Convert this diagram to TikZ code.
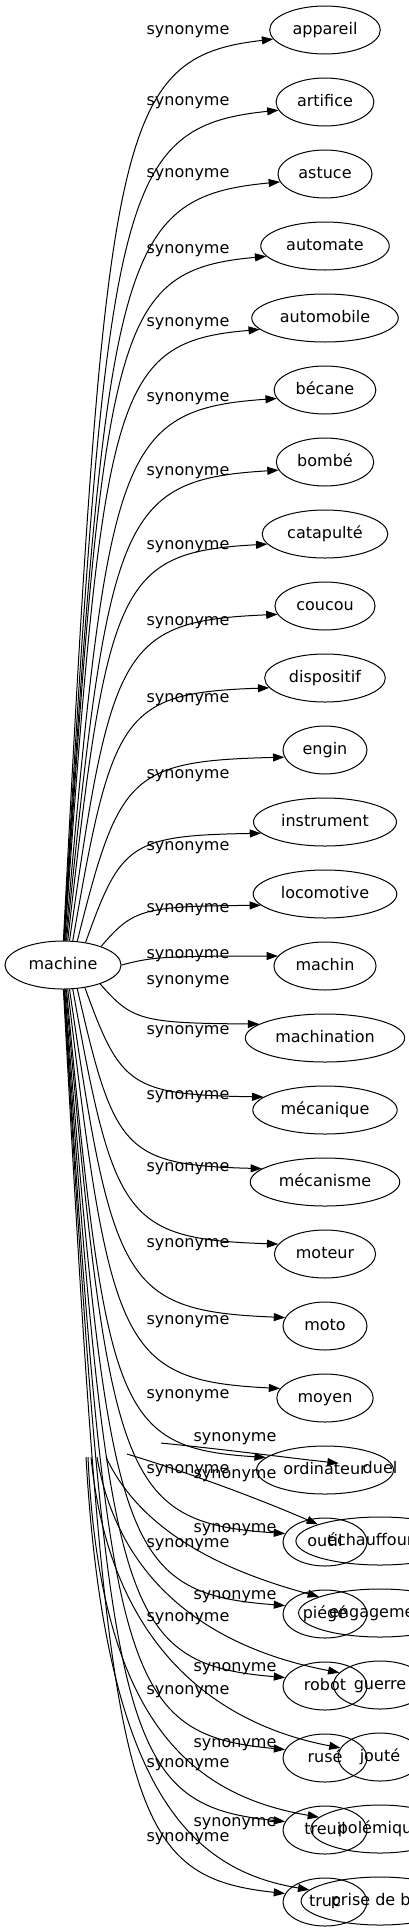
\documentclass[tikz,border=0pt]{standalone}
\usepackage{fontspec}
\setmainfont{DejaVu Sans}
\usetikzlibrary{calc}
\usetikzlibrary{arrows.meta}
\usetikzlibrary{shapes.geometric}

\tikzset{
  word/.style={ellipse, draw, line width=0.75pt, minimum width=63pt, minimum height=36pt,
    inner xsep=5pt, inner ysep=3pt, text height=9pt, text depth=2.5pt},
  syn/.style={line width=0.75pt, -{Triangle[length=8.5pt,width=6pt]}},
  lbl/.style={inner sep=0pt, text height=9pt, text depth=2.5pt}
}

\begin{document}
\begin{tikzpicture}[x=0.75pt, y=-0.75pt, font=\fontsize{12pt}{14pt}\selectfont]
\path[use as bounding box, clip] (0,0) rectangle (409,1931);

\node[word] (machine) at (63,965) {machine};

% first column, one edge each from machine
\foreach \nm/\txt/\ly [count=\i from 0] in {appareil/appareil/30, artifice/artifice/101, astuce/astuce/173,
  automate/automate/249, automobile/automobile/322, becane/bécane/397, bombe/bombé/471,
  catapulte/catapulté/545, coucou/coucou/621, dispositif/dispositif/698, engin/engin/774,
  instrument/instrument/846, locomotive/locomotive/908, machin/machin/954, machination/machination/980,
  mecanique/mécanique/1030, mecanisme/mécanisme/1095, moteur/moteur/1167, moto/moto/1243,
  moyen/moyen/1320, ordinateur/ordinateur/1394, outil/outil/1469, piege/piégé/1543,
  robot/robot/1617, ruse/rusé/1690, treuil/treuil/1763, truc/truc/1837}
{
  \pgfmathsetmacro\yy{30+72*\i}
  \pgfmathtruncatemacro\a{(\yy<965 ? 1 : -1)*90*(1-exp(-abs(\yy-965)/200))}
  \pgfmathtruncatemacro\b{\yy<965 ? 190 : (\yy>965 ? 168 : 180)}
  \node[word] (\nm) at (325,\yy) {\txt};
  \node[lbl] (l\nm) at (188,\ly) {synonyme};
  \draw[syn] let \p1=(machine.\a), \p2=(\nm.\b) in (\p1)
    .. controls ({\x1+0.2*(\x2-\x1)},{\y1+0.9*(\y2-\y1)}) and ({\x1+0.25*(\x2-\x1)},{\y2+0.02*(\y1-\y2)}) .. (\p2);
}

% second column, overlapping
\node[word, draw=none] (duel) at (380,1469) {duel};
\foreach \nm/\txt [count=\i] in {echauffouree/échauffourée, engagement/engagement, guerre/guerre,
  joute/jouté, polemique/polémique, prisedebec/prise de bec}
  \node[word] (\nm) at (380,{1469+72*\i}) {\txt};

\foreach \nm/\ly in {duel/1437, echauffouree/1474, engagement/1528, guerre/1595, joute/1667, polemique/1743, prisedebec/1822}
  \node[lbl] (l\nm) at (235,\ly) {synonyme};

\coordinate (sduel) at (161,1443);
\coordinate (sech) at (127,1454);
\coordinate (seng) at (106,1457);
\coordinate (sgue) at (97,1457);
\coordinate (sjou) at (91,1457);
\coordinate (spol) at (88,1457);
\coordinate (spri) at (86,1457);

\draw[syn] (sduel) .. controls (230,1450) and (290,1458) .. (duel.172);
\draw[syn] (sech) .. controls (180,1470) and (250,1495) .. (echauffouree.165);
\draw[syn] (seng) .. controls (140,1530) and (220,1570) .. (engagement.165);
\draw[syn] (sgue) .. controls (120,1590) and (220,1650) .. (guerre.163);
\draw[syn] (sjou) .. controls (110,1650) and (220,1725) .. (joute.167);
\draw[syn] (spol) .. controls (100,1720) and (190,1795) .. (polemique.169);
\draw[syn] (spri) .. controls (105,1790) and (190,1870) .. (prisedebec.171);
\end{tikzpicture}
\end{document}
